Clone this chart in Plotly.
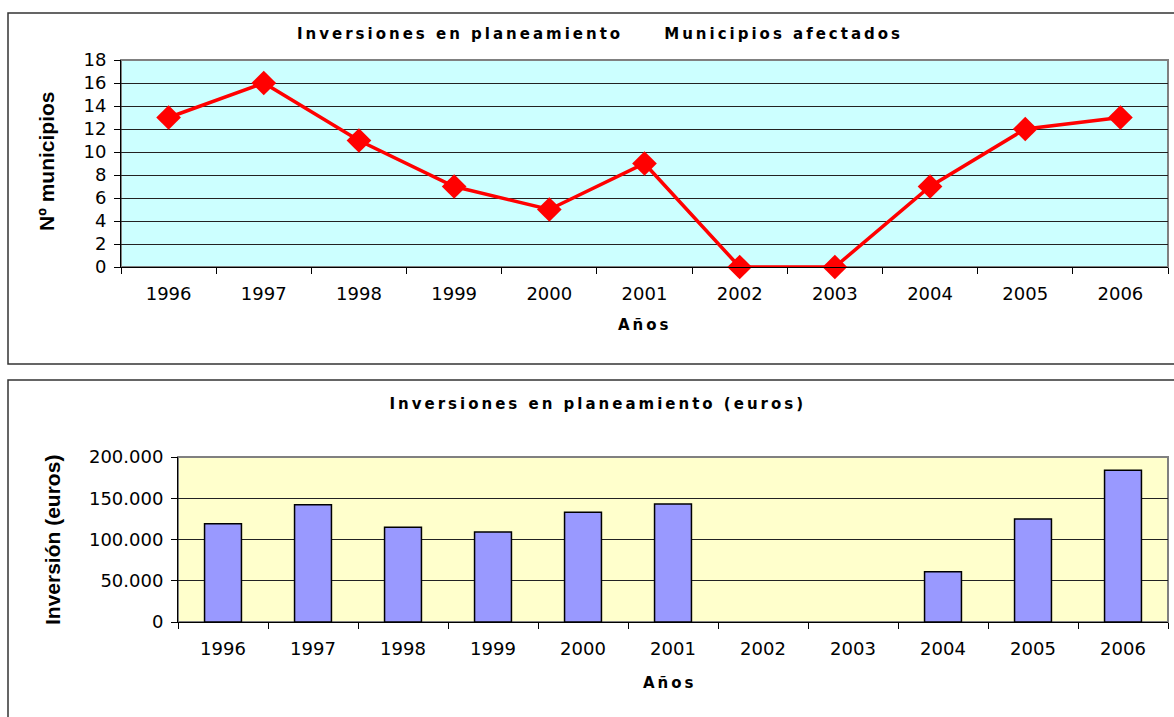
import plotly.graph_objects as go

# datos
anios = ["1996", "1997", "1998", "1999", "2000", "2001", "2002", "2003", "2004", "2005", "2006"]
municipios = [13, 16, 11, 7, 5, 9, 0, 0, 7, 12, 13]
inversion = [119000, 142000, 115000, 109000, 133000, 143000, 0, 0, 61000, 125000, 184000]

W, H = 1174, 717


def px_x(x):
    return x / W


def px_y(y):
    return 1 - y / H


fuente = "Liberation Sans, Arial, sans-serif"
fuente_ancha = "DejaVu Sans, Verdana, sans-serif"

fig = go.Figure()

fig.add_trace(go.Scatter(
    x=anios, y=municipios, mode="lines+markers",
    line=dict(color="#FF0000", width=3.5),
    marker=dict(symbol="diamond", size=19, color="#FF0000"),
    xaxis="x", yaxis="y", showlegend=False, cliponaxis=False,
))

fig.add_trace(go.Bar(
    x=anios, y=inversion,
    marker=dict(color="#9999FF",
                line=dict(color="#000000", width=[1.5 if v else 0 for v in inversion])),
    xaxis="x2", yaxis="y2", showlegend=False,
))

eje_x = dict(
    type="category", tickson="boundaries", ticks="outside", ticklen=6,
    tickcolor="#000", showline=True, linecolor="#000", linewidth=1,
    showgrid=False, tickfont=dict(family=fuente_ancha, size=18, color="#000"),
    ticklabelstandoff=10, range=[-0.5, 10.5],
    automargin=False, fixedrange=True,
)
eje_y = dict(
    ticks="outside", ticklen=6, tickcolor="#000", showline=True,
    linecolor="#000", linewidth=1, showgrid=True, gridcolor="#222",
    gridwidth=1, zeroline=False, automargin=False, ticklabelstandoff=4,
    tickfont=dict(family=fuente_ancha, size=18, color="#000"), fixedrange=True,
)

fig.update_layout(
    width=W, height=H,
    margin=dict(l=0, r=0, t=0, b=0),
    paper_bgcolor="white",
    plot_bgcolor="white",
    separators=",.",
    bargap=0.59,
    xaxis=dict(eje_x, domain=[px_x(121), px_x(1168)], anchor="y"),
    yaxis=dict(eje_y, domain=[px_y(267), px_y(60)], range=[0, 18], dtick=2, anchor="x"),
    xaxis2=dict(eje_x, domain=[px_x(178), px_x(1168)], anchor="y2"),
    yaxis2=dict(eje_y, domain=[px_y(622), px_y(457)], range=[0, 200000], dtick=50000,
                tickformat=",d", anchor="x2"),
)

# fondos de las áreas de trazado y marcos
fig.add_shape(type="rect", xref="paper", yref="paper",
              x0=px_x(121), x1=px_x(1168), y0=px_y(267), y1=px_y(60),
              fillcolor="#CCFFFF", line=dict(color="#808080", width=2), layer="below")
fig.add_shape(type="rect", xref="paper", yref="paper",
              x0=px_x(178), x1=px_x(1168), y0=px_y(622), y1=px_y(457),
              fillcolor="#FFFFCC", line=dict(color="#808080", width=2), layer="below")
fig.add_shape(type="rect", xref="paper", yref="paper",
              x0=px_x(8), x1=px_x(1180), y0=px_y(364), y1=px_y(13),
              line=dict(color="#333", width=1.5), layer="below")
fig.add_shape(type="rect", xref="paper", yref="paper",
              x0=px_x(8), x1=px_x(1180), y0=px_y(730), y1=px_y(380),
              line=dict(color="#333", width=1.5), layer="below")

textos = [
    ("Inversiones en planeamiento     Municipios afectados", 600, 34, 0, 15, fuente_ancha),
    ("Años", 645, 325, 0, 15, fuente_ancha),
    ("Nº municipios", 47, 161, -90, 21, fuente),
    ("Inversiones en planeamiento (euros)", 598, 404, 0, 15, fuente_ancha),
    ("Años", 670, 683, 0, 15, fuente_ancha),
    ("Inversión (euros)", 52, 540, -90, 21, fuente),
]
for texto, x, y, ang, tam, fam in textos:
    fig.add_annotation(
        text="<b>" + texto + "</b>", x=px_x(x), y=px_y(y), xref="paper", yref="paper",
        showarrow=False, textangle=ang, xanchor="center", yanchor="middle",
        font=dict(family=fam, size=tam, color="#000"),
    )

# margen del body a cero y espaciado de letras en los títulos horizontales
post = """
document.body.style.margin = '0';
var gd = document.getElementById('{plot_id}');
function espaciar() {
  gd.querySelectorAll('.annotation').forEach(function (a) {
    var i = a.getAttribute('data-index');
    if (i === '0' || i === '1' || i === '3' || i === '4') {
      var t = a.querySelector('.annotation-text');
      if (t) t.style.letterSpacing = '3px';
    }
  });
}
espaciar();
gd.on('plotly_afterplot', espaciar);
"""

fig.write_html("out.html", post_script=post, config={"displayModeBar": False})
